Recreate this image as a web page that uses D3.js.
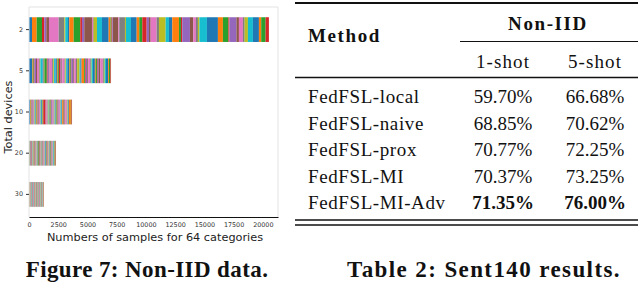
<!DOCTYPE html>
<html>
<head>
<meta charset="utf-8">
<script src="https://cdn.jsdelivr.net/npm/d3@7"></script>
<style>
  body { margin: 0; background: #fff; }
  svg { display: block; }
</style>
</head>
<body>
<div id="chart"></div>
<script>
// DATA
var devices = ["2", "5", "10", "20", "30"]
// samples per category (64 categories) for one device, by total devices
var samples2 = [256, 402, 453, 197, 171, 231, 829, 479, 86, 231,
  111, 376, 564, 145, 197, 658, 86, 60, 282, 428,
  573, 154, 86, 68, 60, 453, 86, 487, 86, 428,
  487, 222, 257, 376, 197, 145, 513, 197, 573, 282,
  282, 573, 171, 111, 658, 282, 231, 171, 128, 641,
  940, 428, 470, 86, 599, 214, 342, 145, 282, 428,
  513, 197, 376, 282]
var samples5 = [274, 54, 74, 64, 134, 84, 164, 74, 54, 194,
  84, 64, 204, 74, 104, 54, 224, 94, 74, 134,
  104, 74, 94, 144, 84, 64, 194, 74, 64, 104,
  144, 64, 84, 54, 164, 74, 154, 104, 204, 74,
  94, 224, 74, 64, 124, 84, 174, 64, 54, 114,
  164, 74, 104, 64, 94, 134, 214, 84, 74, 104,
  184, 74, 124, 54]
var samples10 = [90, 60, 40, 30, 70, 40, 80, 30, 50, 60,
  40, 70, 50, 30, 40, 60, 90, 40, 30, 50,
  70, 40, 60, 200, 50, 30, 80, 40, 60, 40,
  50, 60, 40, 30, 70, 40, 100, 50, 40, 60,
  40, 50, 70, 40, 60, 30, 90, 40, 30, 70,
  60, 80, 40, 50, 40, 60, 120, 50, 40, 30,
  60, 170, 50, 50]
var samples20 = [40, 30, 50, 20, 30, 60, 40, 30, 20, 40,
  30, 50, 40, 20, 30, 40, 50, 20, 30, 40,
  40, 30, 60, 30, 20, 50, 40, 30, 20, 30,
  30, 40, 30, 20, 40, 30, 60, 30, 20, 40,
  50, 30, 40, 20, 30, 40, 50, 20, 30, 30,
  40, 30, 50, 20, 40, 30, 60, 30, 30, 40,
  50, 40, 60, 40]
var samples30 = [20, 30, 20, 10, 20, 30, 20, 10, 30, 30,
  20, 10, 20, 30, 10, 20, 30, 20, 10, 20,
  20, 30, 10, 20, 20, 10, 20, 30, 20, 20,
  30, 10, 20, 20, 10, 30, 20, 10, 20, 30,
  20, 20, 10, 20, 30, 20, 20, 10, 30, 20,
  10, 20, 30, 20, 20, 10, 20, 30, 10, 20,
  20, 30, 10, 20]
var xTicks = [0, 2500, 5000, 7500, 10000, 12500, 15000, 17500, 20000]

var methods = ["FedFSL-local", "FedFSL-naive", "FedFSL-prox", "FedFSL-MI", "FedFSL-MI-Adv"]
var oneShot = ["59.70%", "68.85%", "70.77%", "70.37%", "71.35%"]
var fiveShot = ["66.68%", "70.62%", "72.25%", "73.25%", "76.00%"]
var shots = ["1-shot", "5-shot"]

var W = 640, H = 285
var svg = d3.select("#chart").append("svg")
  .attr("width", W)
  .attr("height", H)

// ---------- LEFT: stacked bar chart ----------
var plot = {left: 29, right: 278, top: 7, bottom: 217}
var rows = [samples2, samples5, samples10, samples20, samples30]
var x = d3.scaleLinear().domain([0, 21300]).range([plot.left, plot.right])
var y = d3.scaleBand().domain(devices).range([plot.top + 2, plot.bottom - 2])
  .paddingInner(0.4).paddingOuter(0.2)
var color = d3.scaleOrdinal(d3.schemeCategory10)

var g = svg.append("g")

rows.forEach(function (vals, r) {
  var acc = 0
  var segs = vals.map(function (v, i) {
    var s = {i: i, x0: acc, x1: acc + v}
    acc += v
    return s
  })
  g.append("g").selectAll("rect")
    .data(segs)
    .enter().append("rect")
      .attr("x", d => x(d.x0))
      .attr("y", y(devices[r]))
      .attr("width", d => x(d.x1) - x(d.x0))
      .attr("height", y.bandwidth())
      .attr("fill", d => color(d.i % 10))
})

// frame
g.append("path")
  .attr("d", "M" + plot.left + "," + plot.bottom + "V" + plot.top + "H" + plot.right + "V" + plot.bottom)
  .attr("fill", "none")
  .attr("stroke", "#e3e3e3")
  .attr("stroke-width", 1)

var xAxis = g.append("g")
  .attr("transform", "translate(0," + plot.bottom + ")")
  .call(d3.axisBottom(x).tickValues(xTicks).tickSize(0).tickPadding(5).tickFormat(d3.format("d")))
xAxis.select(".domain").attr("stroke", "#111").attr("stroke-width", 1.2)
xAxis.selectAll("text").style("font-family", "DejaVu Sans").style("font-size", "6.4px").attr("fill", "#333")

var yAxis = g.append("g")
  .attr("transform", "translate(" + plot.left + ",0)")
  .call(d3.axisLeft(y).tickSize(3).tickPadding(3))
yAxis.select(".domain").remove()
yAxis.selectAll("line").attr("stroke", "#333")
yAxis.selectAll("text").style("font-family", "DejaVu Sans").style("font-size", "6.4px").attr("fill", "#333")

g.append("text")
  .attr("x", 155)
  .attr("y", 241)
  .attr("text-anchor", "middle")
  .style("font-family", "DejaVu Sans")
  .style("font-size", "11.3px")
  .attr("fill", "#222")
  .text("Numbers of samples for 64 categories")

g.append("text")
  .attr("transform", "translate(12,117) rotate(-90)")
  .attr("text-anchor", "middle")
  .style("font-family", "DejaVu Sans")
  .style("font-size", "11.3px")
  .attr("fill", "#222")
  .text("Total devices")

// ---------- RIGHT: table ----------
var tbl = {left: 295, right: 638}
var t = svg.append("g").style("font-family", "Liberation Serif").attr("fill", "#111")
var colX = [503, 595]
var rowY = d3.scalePoint().domain(methods).range([103, 209])

function rule(y0, x0, x1, w) {
  t.append("line").attr("x1", x0).attr("x2", x1).attr("y1", y0).attr("y2", y0)
    .attr("stroke", "#111").attr("stroke-width", w)
}
rule(3, tbl.left, tbl.right, 2)
rule(41.5, 460, tbl.right, 1)
rule(77.5, tbl.left, tbl.right, 1.5)
rule(220, tbl.left, tbl.right, 1.5)
rule(225, tbl.left, tbl.right, 1.5)

t.append("text").attr("x", 308).attr("y", 42)
  .style("font-size", "19px").style("font-weight", "bold").style("letter-spacing", "1.6px").text("Method")
t.append("text").attr("x", 548).attr("y", 30).attr("text-anchor", "middle")
  .style("font-size", "19px").style("font-weight", "bold").style("letter-spacing", "1.6px").text("Non-IID")
t.selectAll(".shot").data(shots).enter().append("text")
  .attr("class", "shot")
  .attr("x", (d, i) => colX[i]).attr("y", 68).attr("text-anchor", "middle")
  .style("font-size", "19px").style("letter-spacing", "1.1px").text(d => d)

t.selectAll(".method").data(methods).enter().append("text")
  .attr("class", "method")
  .attr("x", 308).attr("y", d => rowY(d))
  .style("font-size", "19px").style("letter-spacing", "0.6px").text(d => d)

var best = methods.length - 1
t.selectAll(".one").data(oneShot).enter().append("text")
  .attr("class", "one")
  .attr("x", colX[0]).attr("y", (d, i) => rowY(methods[i])).attr("text-anchor", "middle")
  .style("font-size", "19px").style("font-weight", (d, i) => i === best ? "bold" : "normal")
  .text(d => d)
t.selectAll(".five").data(fiveShot).enter().append("text")
  .attr("class", "five")
  .attr("x", colX[1]).attr("y", (d, i) => rowY(methods[i])).attr("text-anchor", "middle")
  .style("font-size", "19px").style("font-weight", (d, i) => i === best ? "bold" : "normal")
  .text(d => d)

// ---------- captions ----------
svg.append("text").attr("x", 147).attr("y", 277).attr("text-anchor", "middle")
  .style("font-family", "Liberation Serif").style("font-size", "23px").style("font-weight", "bold")
  .style("letter-spacing", "0.4px").attr("fill", "#111").text("Figure 7: Non-IID data.")
svg.append("text").attr("x", 484).attr("y", 277).attr("text-anchor", "middle")
  .style("font-family", "Liberation Serif").style("font-size", "23px").style("font-weight", "bold")
  .style("letter-spacing", "1.4px").attr("fill", "#111").text("Table 2: Sent140 results.")
</script>
</body>
</html>
